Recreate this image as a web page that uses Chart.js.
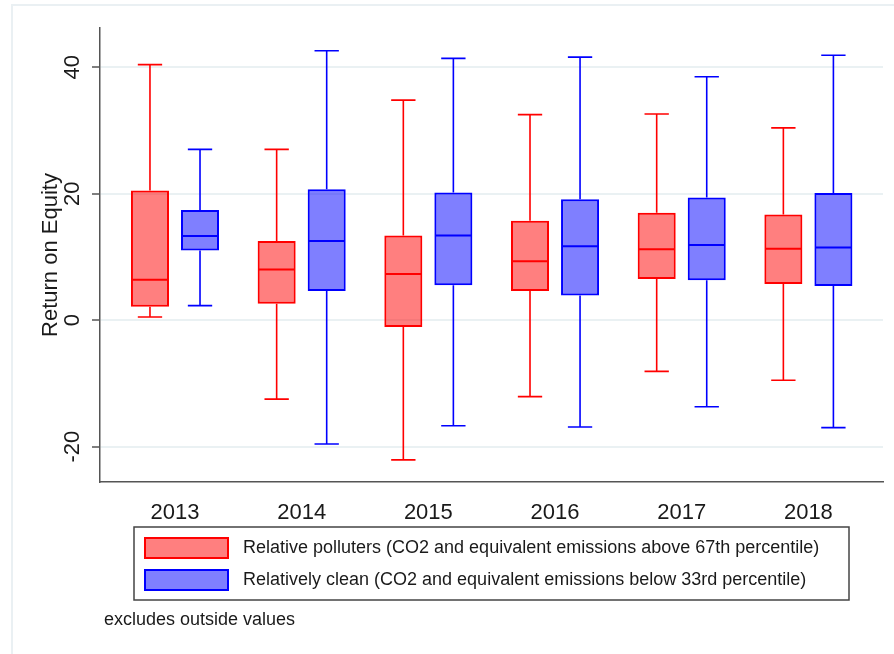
<!DOCTYPE html>
<html>
<head>
<meta charset="utf-8">
<title>Return on Equity by year</title>
<script src="https://cdn.jsdelivr.net/npm/chart.js@4.4.1/dist/chart.umd.min.js"></script>
<style>
	html, body { margin: 0; padding: 0; background: #fff; }
	#wrap { width: 894px; height: 654px; position: relative; }
</style>
</head>
<body>
<div id="wrap"><canvas id="box-chart"></canvas></div>
<script>
var years = ['2013', '2014', '2015', '2016', '2017', '2018'];

// relative polluters
var polMin = [0.5, -12.5, -22.1, -12.1, -8.1, -9.5];
var polQ1 = [2.1, 2.6, -1.1, 4.6, 6.5, 5.7];
var polMed = [6.4, 8.0, 7.3, 9.3, 11.2, 11.3];
var polQ3 = [20.5, 12.5, 13.4, 15.7, 17.0, 16.7];
var polMax = [40.4, 27.0, 34.8, 32.5, 32.6, 30.4];

// relatively clean
var cleanMin = [2.3, -19.6, -16.7, -16.9, -13.7, -17.0];
var cleanQ1 = [11.0, 4.6, 5.5, 3.9, 6.3, 5.4];
var cleanMed = [13.3, 12.5, 13.4, 11.7, 11.9, 11.5];
var cleanQ3 = [17.4, 20.7, 20.2, 19.1, 19.4, 20.1];
var cleanMax = [27.0, 42.6, 41.4, 41.6, 38.5, 41.9];

var yTicks = [-20, 0, 20, 40];

var labelPol = 'Relative polluters (CO2 and equivalent emissions above 67th percentile)';
var labelClean = 'Relatively clean (CO2 and equivalent emissions below 33rd percentile)';
var note = 'excludes outside values';

var stats = [
	{ q1: polQ1, q3: polQ3, min: polMin, med: polMed, max: polMax },
	{ q1: cleanQ1, q3: cleanQ3, min: cleanMin, med: cleanMed, max: cleanMax }
];

function boxes(q1, q3) {
	return years.map(function(y, i) { return { x: i, y: [q1[i], q3[i]] }; });
}

var FONT = 'Liberation Sans, Arial, sans-serif';
var TEXT = '#1a1a1a';
var AXIS = '#555';

// whiskers, caps and median lines on top of the floating bars
var whiskers = {
	id: 'whiskers',
	afterDatasetsDraw: function(chart) {
		var ctx = chart.ctx, ys = chart.scales.y;
		chart.data.datasets.forEach(function(ds, d) {
			var s = stats[d];
			chart.getDatasetMeta(d).data.forEach(function(bar, i) {
				var x = bar.x, w = bar.width, cap = w * 0.32;
				var pQ1 = ys.getPixelForValue(s.q1[i]);
				var pQ3 = ys.getPixelForValue(s.q3[i]);
				var pMin = ys.getPixelForValue(s.min[i]);
				var pMax = ys.getPixelForValue(s.max[i]);
				var pMed = ys.getPixelForValue(s.med[i]);
				ctx.save();
				ctx.strokeStyle = ds.borderColor;
				ctx.lineWidth = 1.6;
				ctx.beginPath();
				ctx.moveTo(x, pQ3); ctx.lineTo(x, pMax);
				ctx.moveTo(x - cap, pMax); ctx.lineTo(x + cap, pMax);
				ctx.moveTo(x, pQ1); ctx.lineTo(x, pMin);
				ctx.moveTo(x - cap, pMin); ctx.lineTo(x + cap, pMin);
				ctx.stroke();
				ctx.lineWidth = 2;
				ctx.beginPath();
				ctx.moveTo(x - w / 2 + 1, pMed); ctx.lineTo(x + w / 2 - 1, pMed);
				ctx.stroke();
				ctx.restore();
			});
		});
	}
};

// faint outer frame + boxed legend + note below the plot
var frameLegend = {
	id: 'frameLegend',
	beforeDraw: function(chart) {
		var ctx = chart.ctx;
		ctx.save();
		ctx.fillStyle = '#fff';
		ctx.fillRect(0, 0, chart.width, chart.height);
		ctx.strokeStyle = '#eaf0f3';
		ctx.lineWidth = 2;
		ctx.strokeRect(12, 5, chart.width + 20, chart.height + 20);
		ctx.restore();
	},
	afterDraw: function(chart) {
		var ctx = chart.ctx, area = chart.chartArea;
		var top = area.bottom + 45, left = 134, right = 849, rowH = 32;
		ctx.save();
		ctx.strokeStyle = '#444';
		ctx.lineWidth = 1.5;
		ctx.strokeRect(left, top, right - left, 73);
		ctx.font = '18px ' + FONT;
		ctx.textBaseline = 'middle';
		ctx.textAlign = 'left';
		chart.data.datasets.forEach(function(ds, d) {
			var y0 = top + 10 + d * rowH;
			ctx.fillStyle = ds.backgroundColor;
			ctx.fillRect(left + 10, y0, 85, 22);
			ctx.strokeStyle = ds.borderColor;
			ctx.lineWidth = 2;
			ctx.strokeRect(left + 11, y0 + 1, 83, 20);
			ctx.fillStyle = TEXT;
			ctx.fillText(ds.label, left + 109, y0 + 11);
		});
		ctx.fillText(note, 104, top + 93);
		ctx.restore();
	}
};

var ctx = document.getElementById('box-chart');

var boxChart = new Chart(ctx, {
	type: 'bar',
	data: {
		datasets: [
			{
				label: labelPol,
				data: boxes(polQ1, polQ3),
				backgroundColor: 'rgba(255, 0, 0, 0.5)',
				borderColor: '#ff0000',
				borderWidth: 2,
				borderSkipped: false
			},
			{
				label: labelClean,
				data: boxes(cleanQ1, cleanQ3),
				backgroundColor: 'rgba(0, 0, 255, 0.5)',
				borderColor: '#0000ff',
				borderWidth: 2,
				borderSkipped: false
			}
		]
	},
	options: {
		responsive: true,
		maintainAspectRatio: false,
		animation: false,
		categoryPercentage: 0.79,
		barPercentage: 0.76,
		layout: { padding: { top: 28, right: 11, left: 12, bottom: 132 } },
		plugins: {
			legend: { display: false },
			tooltip: { enabled: false }
		},
		scales: {
			x: {
				type: 'linear',
				offset: false,
				min: -0.592,
				max: 5.589,
				afterBuildTicks: function(axis) {
					axis.ticks = years.map(function(y, i) { return { value: i }; });
				},
				afterFit: function(axis) { axis.height = 40; },
				grid: { display: false, offset: false },
				border: { display: true, color: AXIS, width: 1.5 },
				ticks: {
					autoSkip: false,
					maxRotation: 0,
					padding: 10,
					color: TEXT,
					font: { family: FONT, size: 22 },
					callback: function(value, index) { return years[index]; }
				}
			},
			y: {
				min: -25.6,
				max: 46.2,
				afterBuildTicks: function(axis) {
					axis.ticks = yTicks.map(function(v) { return { value: v }; });
				},
				afterFit: function(axis) { axis.width = 88; },
				grid: { color: '#eaf1f3', lineWidth: 2, tickLength: 8, tickColor: AXIS, tickWidth: 1.5 },
				border: { display: true, color: AXIS, width: 1.5 },
				title: {
					display: true,
					text: 'Return on Equity',
					color: TEXT,
					font: { family: FONT, size: 22 },
					padding: { top: 26, bottom: 0 }
				},
				ticks: {
					minRotation: 90,
					maxRotation: 90,
					crossAlign: 'center',
					padding: 3,
					color: TEXT,
					font: { family: FONT, size: 22 }
				}
			}
		}
	},
	plugins: [frameLegend, whiskers]
});
</script>
</body>
</html>
